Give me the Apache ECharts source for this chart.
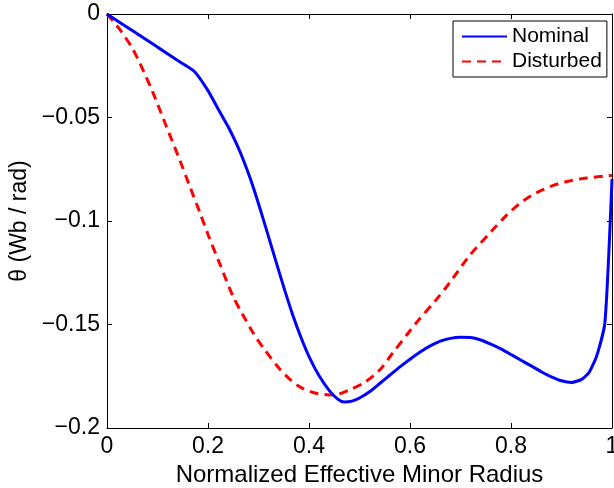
<!DOCTYPE html>
<html>
<head>
<meta charset="utf-8">
<script src="https://cdn.jsdelivr.net/npm/echarts@6/dist/echarts.min.js"></script>
<style>
  html, body { margin: 0; padding: 0; background: #fff; }
  #chart { width: 614px; height: 488px; }
</style>
</head>
<body>
<div id="chart"></div>
<script>
// values
const nominalX = [0, 0.05, 0.1, 0.15, 0.174, 0.2, 0.219, 0.24, 0.257, 0.27, 0.283, 0.296, 0.308, 0.32, 0.336, 0.352, 0.368, 0.385, 0.401, 0.42, 0.441, 0.458, 0.47, 0.485, 0.5, 0.52, 0.54, 0.56, 0.58, 0.6, 0.62, 0.64, 0.66, 0.68, 0.7, 0.72, 0.74, 0.76, 0.78, 0.8, 0.82, 0.84, 0.86, 0.88, 0.9, 0.92, 0.94, 0.955, 0.97, 0.986, 1.0]
const nominalY = [0, -0.008, -0.016, -0.024, -0.028, -0.037, -0.0454, -0.0545, -0.063, -0.0705, -0.079, -0.0885, -0.098, -0.1077, -0.1207, -0.1335, -0.1455, -0.1568, -0.166, -0.1748, -0.1822, -0.1862, -0.1874, -0.187, -0.1855, -0.1825, -0.1785, -0.1745, -0.1705, -0.1668, -0.1633, -0.1603, -0.158, -0.1567, -0.1562, -0.1563, -0.1575, -0.1595, -0.1618, -0.1645, -0.1673, -0.17, -0.1728, -0.1753, -0.1772, -0.178, -0.1765, -0.173, -0.165, -0.149, -0.0797]
const disturbedX = [0, 0.026, 0.05, 0.065, 0.091, 0.118, 0.144, 0.164, 0.184, 0.2, 0.223, 0.25, 0.27, 0.29, 0.31, 0.342, 0.36, 0.381, 0.41, 0.441, 0.46, 0.48, 0.51, 0.54, 0.565, 0.6, 0.613, 0.652, 0.678, 0.717, 0.763, 0.79, 0.816, 0.84, 0.862, 0.885, 0.909, 0.95, 1.0]
const disturbedY = [0, -0.0077, -0.0165, -0.0237, -0.038, -0.0546, -0.0705, -0.0833, -0.096, -0.1065, -0.1205, -0.1366, -0.1458, -0.1543, -0.1615, -0.1715, -0.176, -0.18, -0.183, -0.184, -0.1835, -0.1816, -0.178, -0.172, -0.164, -0.153, -0.149, -0.138, -0.13, -0.117, -0.1045, -0.0975, -0.0918, -0.0878, -0.085, -0.0827, -0.081, -0.0792, -0.078]
const seriesNames = ['Nominal', 'Disturbed']
const xTicks = [0, 0.2, 0.4, 0.6, 0.8, 1]
const yTicks = [0, -0.05, -0.1, -0.15, -0.2]

const font = 'Liberation Sans, Arial, Helvetica, sans-serif'
const zip = (xs, ys) => xs.map((x, i) => [x, ys[i]])

const chart = echarts.init(document.getElementById('chart'))

const baseAxis = {
  axisLine: { show: true, onZero: false, lineStyle: { color: '#000', width: 1 } },
  axisTick: { show: true, inside: true, length: 5, lineStyle: { color: '#000' } },
  splitLine: { show: false }
}

const option = {
  animation: false,
  backgroundColor: '#fff',
  textStyle: { fontFamily: font },
  grid: { left: 107, right: 2, top: 14, bottom: 60, outerBoundsMode: 'none' },
  legend: {
    data: seriesNames,
    orient: 'vertical',
    left: 453,
    top: 21,
    itemWidth: 45,
    itemHeight: 14,
    itemGap: 4,
    padding: [5, 5, 5, 8],
    borderColor: '#000',
    borderWidth: 1,
    backgroundColor: '#fff',
    // hide the marker dot, keep only the line sample
    itemStyle: { opacity: 0 },
    textStyle: { fontSize: 21, lineHeight: 21, color: '#000', fontFamily: font }
  },
  xAxis: [
    Object.assign({}, baseAxis, {
      type: 'value',
      min: xTicks[0],
      max: xTicks[xTicks.length - 1],
      interval: 0.2,
      position: 'bottom',
      name: 'Normalized Effective Minor Radius',
      nameLocation: 'middle',
      nameGap: 28,
      nameTextStyle: { fontSize: 24, color: '#000', fontFamily: font },
      axisLabel: { fontSize: 23, color: '#000', margin: 7, fontFamily: font, formatter: v => String(+v.toFixed(2)) }
    }),
    Object.assign({}, baseAxis, {
      type: 'value',
      min: xTicks[0],
      max: xTicks[xTicks.length - 1],
      interval: 0.2,
      position: 'top',
      axisLabel: { show: false }
    })
  ],
  yAxis: [
    Object.assign({}, baseAxis, {
      type: 'value',
      min: yTicks[yTicks.length - 1],
      max: yTicks[0],
      interval: 0.05,
      position: 'left',
      name: 'θ (Wb / rad)',
      nameLocation: 'middle',
      nameGap: 73,
      nameTextStyle: { fontSize: 23, color: '#000', fontFamily: font },
      axisLabel: {
        fontSize: 23, color: '#000', margin: 7, fontFamily: font,
        formatter: v => {
          const r = +v.toFixed(2)
          return r < 0 ? '\u2212' + String(-r) : String(r)
        }
      }
    }),
    Object.assign({}, baseAxis, {
      type: 'value',
      min: yTicks[yTicks.length - 1],
      max: yTicks[0],
      interval: 0.05,
      position: 'right',
      axisLabel: { show: false }
    })
  ],
  series: [
    {
      name: seriesNames[0],
      type: 'line',
      data: zip(nominalX, nominalY),
      symbol: 'none',
      smooth: 0.2,
      lineStyle: { color: '#0000ff', width: 3 },
      itemStyle: { color: '#0000ff' },
      z: 3
    },
    {
      name: seriesNames[1],
      type: 'line',
      data: zip(disturbedX, disturbedY),
      symbol: 'none',
      smooth: 0.3,
      lineStyle: { color: '#ff0000', width: 3, type: [9, 6] },
      itemStyle: { color: '#ff0000' },
      z: 2
    }
  ]
}

chart.setOption(option)
</script>
</body>
</html>
